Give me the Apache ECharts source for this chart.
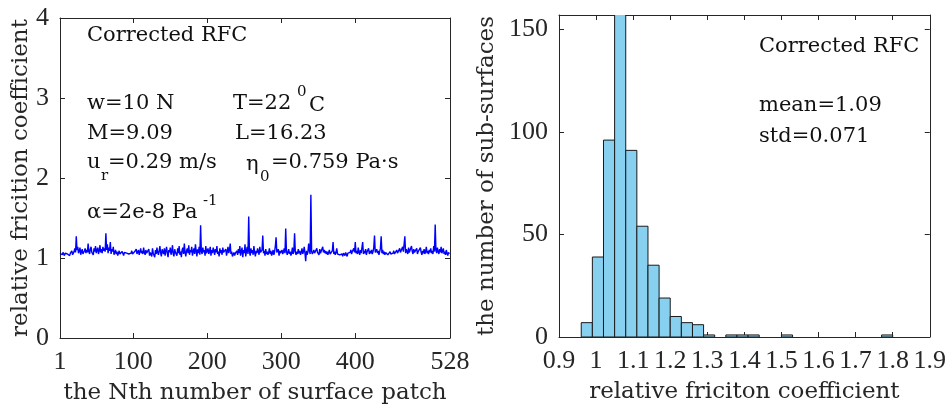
<!DOCTYPE html>
<html><head><meta charset="utf-8">
<script src="https://cdn.jsdelivr.net/npm/echarts@6/dist/echarts.min.js"></script>
<style>html,body{margin:0;padding:0;background:#fff}#c{width:949px;height:410px}</style>
</head><body><div id="c"></div>
<script>
// relative friction coefficient for each of the 528 surface patches
const rfc = [
1.06,1.05,1.08,1.04,1.07,1.05,1.03,1.06,1.04,1.08,1.05,1.04,1.07,1.03,1.06,1.05,1.09,1.04,1.06,1.08,
1.12,1.07,1.27,1.10,1.14,1.06,1.09,1.13,1.04,1.08,1.11,1.05,1.03,1.09,1.12,1.06,1.10,1.07,1.18,1.08,
1.05,1.11,1.14,1.07,1.09,1.04,1.12,1.08,1.15,1.06,1.10,1.13,1.05,1.09,1.16,1.07,1.11,1.06,1.14,1.09,
1.12,1.08,1.31,1.10,1.17,1.06,1.13,1.09,1.20,1.05,1.11,1.08,1.14,1.04,1.07,1.10,1.05,1.08,1.03,1.06,
1.09,1.05,1.07,1.04,1.08,1.06,1.03,1.07,1.05,1.09,1.06,1.04,1.08,1.05,1.07,1.03,1.06,1.09,1.05,1.07,
1.04,1.08,1.06,1.11,1.05,1.07,1.10,1.04,1.08,1.12,1.06,1.09,1.05,1.13,1.07,1.04,1.10,1.06,1.08,1.05,
1.11,1.03,1.07,1.09,1.02,1.12,1.06,1.08,1.01,1.10,1.05,1.13,1.07,1.04,1.09,1.15,1.06,1.02,1.11,1.08,
1.05,1.12,1.03,1.09,1.14,1.06,1.01,1.10,1.07,1.13,1.04,1.08,1.16,1.05,1.02,1.11,1.07,1.09,1.03,1.12,
1.06,1.15,1.04,1.08,1.01,1.10,1.13,1.05,1.18,1.07,1.02,1.09,1.12,1.06,1.16,1.04,1.10,1.07,1.14,1.03,
1.08,1.12,1.05,1.17,1.09,1.02,1.11,1.06,1.14,1.04,1.41,1.08,1.05,1.13,1.07,1.10,1.03,1.15,1.06,1.09,
1.12,1.05,1.08,1.14,1.03,1.10,1.06,1.13,1.09,1.04,1.11,1.07,1.15,1.05,1.08,1.02,1.12,1.06,1.10,1.04,
1.13,1.07,1.09,1.05,1.11,1.03,1.08,1.14,1.06,1.10,1.18,1.05,1.08,1.02,1.04,1.07,1.03,1.06,1.05,1.09,
1.04,1.11,1.06,1.15,1.03,1.08,1.13,1.01,1.10,1.06,1.17,1.02,1.09,1.14,1.05,1.52,1.08,1.03,1.12,1.06,
1.10,1.04,1.15,1.07,1.02,1.09,1.06,1.12,1.08,1.04,1.14,1.07,1.05,1.10,1.28,1.06,1.09,1.03,1.11,1.05,
1.08,1.04,1.07,1.12,1.05,1.09,1.03,1.06,1.10,1.04,1.08,1.15,1.26,1.07,1.05,1.11,1.03,1.09,1.06,1.04,
1.10,1.05,1.08,1.12,1.06,1.37,1.09,1.04,1.07,1.11,1.05,1.08,1.03,1.06,1.13,1.05,1.09,1.31,1.07,1.04,
1.08,1.05,1.11,1.06,1.09,1.04,1.07,1.12,1.05,1.08,1.14,1.06,0.96,1.09,1.04,1.07,1.18,1.10,1.05,1.79,
1.08,1.05,1.07,1.10,1.06,1.08,1.05,1.12,1.07,1.09,1.04,1.11,1.06,1.08,1.05,1.14,1.07,1.10,1.06,1.09,
1.05,1.08,1.04,1.07,1.10,1.05,1.03,1.06,1.09,1.20,1.05,1.08,1.04,1.07,1.12,1.05,1.03,1.07,1.04,1.06,
1.03,1.05,1.02,1.06,1.04,1.03,1.07,1.05,1.02,1.06,1.08,1.04,1.07,1.10,1.05,1.08,1.06,1.12,1.07,1.20,
1.06,1.09,1.05,1.13,1.07,1.04,1.10,1.06,1.08,1.20,1.05,1.09,1.06,1.11,1.04,1.08,1.07,1.12,1.05,1.09,
1.06,1.10,1.05,1.08,1.13,1.28,1.07,1.05,1.11,1.06,1.09,1.04,1.08,1.12,1.27,1.06,1.10,1.05,1.08,1.04,
1.07,1.05,1.09,1.04,1.06,1.03,1.08,1.05,1.07,1.04,1.06,1.09,1.05,1.07,1.04,1.10,1.06,1.08,1.05,1.12,
1.07,1.09,1.06,1.14,1.08,1.10,1.27,1.06,1.11,1.08,1.05,1.13,1.07,1.09,1.06,1.15,1.08,1.05,1.11,1.07,
1.09,1.06,1.12,1.05,1.08,1.10,1.06,1.13,1.07,1.04,1.09,1.06,1.11,1.05,1.08,1.14,1.06,1.09,1.05,1.10,
1.07,1.12,1.06,1.09,1.05,1.15,1.08,1.42,1.10,1.06,1.13,1.08,1.05,1.11,1.07,1.14,1.06,1.09,1.12,1.05,
1.08,1.04,1.10,1.06,1.03,1.07,1.05,1.06
];
const xTicksLeft = [1, 100, 200, 300, 400, 528];
const yTicksLeft = [0, 1, 2, 3, 4];

// histogram of the corrected RFC
const binStarts = [0.96,0.99,1.02,1.05,1.08,1.11,1.14,1.17,1.20,1.23,1.26,1.29,1.35,1.38,1.41,1.50,1.77];
const binCounts = [7,39,96,158,91,54,35,19,10,7,6,1,1,1,1,1,1];
const binWidth = 0.03;
const xTicksRight = [0.9,1,1.1,1.2,1.3,1.4,1.5,1.6,1.7,1.8,1.9];
const yTicksRight = [0, 50, 100, 150];

const AX = '#262626';
const tickFont = {fontFamily: 'Liberation Serif', fontSize: 26, color: AX};
const titleFont = {fontFamily: 'DejaVu Serif', fontSize: 23, color: AX};
const annFont = '21px "DejaVu Serif"';
const subFont = '15px "DejaVu Serif"';

const lineData = rfc.map((v, i) => [i + 1, v]);
const histData = binStarts.map((s, i) => [s, binCounts[i]]);

function baseAxis(extra) {
  return Object.assign({
    axisLine: {show: true, onZero: false, lineStyle: {color: AX, width: 1}},
    axisTick: {show: true, inside: true, length: 5, lineStyle: {color: AX}},
    splitLine: {show: false}
  }, extra);
}

const chart = echarts.init(document.getElementById('c'), null, {renderer: 'canvas'});
const txt = (x, y, t, font) => ({type: 'text', x: x, y: y, style: {text: t, font: font || annFont, fill: '#111', verticalAlign: 'middle'}});

chart.setOption({
  backgroundColor: '#fff',
  animation: false,
  grid: [
    {left: 60, top: 18, width: 390, height: 323, show: false},
    {left: 559, top: 15, width: 371, height: 322, show: false}
  ],
  xAxis: [
    baseAxis({type: 'value', gridIndex: 0, min: 1, max: 528, position: 'bottom',
      axisTick: {show: true, inside: true, length: 5, lineStyle: {color: AX}, customValues: xTicksLeft},
      axisLabel: Object.assign({margin: 11, customValues: xTicksLeft}, tickFont),
      name: 'the Nth number of surface patch', nameLocation: 'middle', nameGap: 44, nameTextStyle: titleFont}),
    baseAxis({type: 'value', gridIndex: 0, min: 1, max: 528, position: 'top',
      axisTick: {show: true, inside: true, length: 5, lineStyle: {color: AX}, customValues: xTicksLeft},
      axisLabel: {show: false}}),
    baseAxis({type: 'value', gridIndex: 1, min: 0.9, max: 1.9, position: 'bottom',
      axisTick: {show: true, inside: true, length: 5, lineStyle: {color: AX}, customValues: xTicksRight},
      axisLabel: Object.assign({margin: 11, customValues: xTicksRight}, tickFont),
      name: 'relative friciton coefficient', nameLocation: 'middle', nameGap: 44, nameTextStyle: titleFont}),
    baseAxis({type: 'value', gridIndex: 1, min: 0.9, max: 1.9, position: 'top',
      axisTick: {show: true, inside: true, length: 5, lineStyle: {color: AX}, customValues: xTicksRight},
      axisLabel: {show: false}})
  ],
  yAxis: [
    baseAxis({type: 'value', gridIndex: 0, min: 0, max: 4, position: 'left',
      axisTick: {show: true, inside: true, length: 5, lineStyle: {color: AX}, customValues: yTicksLeft},
      axisLabel: Object.assign({margin: 11, customValues: yTicksLeft}, tickFont),
      name: 'relative fricition coefficient', nameLocation: 'middle', nameGap: 26, nameTextStyle: titleFont}),
    baseAxis({type: 'value', gridIndex: 0, min: 0, max: 4, position: 'right',
      axisTick: {show: true, inside: true, length: 5, lineStyle: {color: AX}, customValues: yTicksLeft},
      axisLabel: {show: false}}),
    baseAxis({type: 'value', gridIndex: 1, min: 0, max: 157, position: 'left',
      axisTick: {show: true, inside: true, length: 5, lineStyle: {color: AX}, customValues: yTicksRight},
      axisLabel: Object.assign({margin: 11, customValues: yTicksRight}, tickFont),
      name: 'the number of sub-surfaces', nameLocation: 'middle', nameGap: 60, nameTextStyle: titleFont}),
    baseAxis({type: 'value', gridIndex: 1, min: 0, max: 157, position: 'right',
      axisTick: {show: true, inside: true, length: 5, lineStyle: {color: AX}, customValues: yTicksRight},
      axisLabel: {show: false}})
  ],
  series: [
    {type: 'line', xAxisIndex: 0, yAxisIndex: 0, data: lineData, showSymbol: false, symbol: 'none',
      lineStyle: {color: '#0000ff', width: 1.4}, clip: true},
    {type: 'custom', xAxisIndex: 2, yAxisIndex: 2, data: histData, clip: true,
      encode: {x: 0, y: 1},
      renderItem: function (params, api) {
        const x0 = api.value(0), c = api.value(1);
        const p0 = api.coord([x0, c]);
        const p1 = api.coord([x0 + binWidth, 0]);
        return {type: 'rect', shape: {x: p0[0], y: p0[1], width: p1[0] - p0[0], height: p1[1] - p0[1]},
          style: {fill: '#88d0ef', stroke: '#1a1a1a', lineWidth: 1}};
      }}
  ],
  graphic: [
    txt(87, 36, 'Corrected RFC'),
    txt(87, 104, 'w=10 N'),
    txt(233, 104, 'T=22'),
    txt(297, 92, '0', subFont),
    txt(309, 106, 'C'),
    txt(87, 134, 'M=9.09'),
    txt(235, 134, 'L=16.23'),
    txt(87, 163, 'u'),
    txt(101, 176, 'r', subFont),
    txt(108, 163, '=0.29 m/s'),
    txt(246, 165, 'η'),
    txt(260, 177, '0', subFont),
    txt(271, 163, '=0.759 Pa·s'),
    txt(87, 213, 'α=2e-8 Pa'),
    txt(203, 201, '-1', subFont),
    txt(759, 47, 'Corrected RFC'),
    txt(759, 106, 'mean=1.09'),
    txt(759, 137, 'std=0.071')
  ]
});
</script></body></html>
